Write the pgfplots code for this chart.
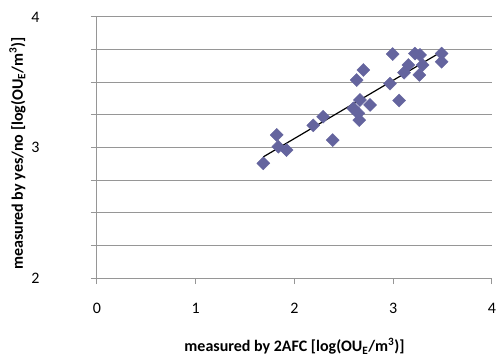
\documentclass[border=0pt]{standalone}
\usepackage{pgfplots}
\pgfplotsset{compat=1.18}
\usepackage{fontspec}
\setmainfont{Carlito}
\definecolor{pts}{RGB}{100,100,158}
\definecolor{gridc}{RGB}{150,150,150}
\begin{document}
\begin{tikzpicture}
\path[use as bounding box] (-97pt,-78pt) rectangle (401pt,278pt);
\begin{axis}[
  at={(0pt,0pt)}, anchor=south west,
  scale only axis, width=395pt, height=261pt,
  xmin=0, xmax=4, ymin=2, ymax=4,
  xtick={0,1,2,3,4}, ytick={2,3,4},
  minor ytick={2.25,2.5,2.75,3.25,3.5,3.75},
  ymajorgrids, yminorgrids,
  major grid style={gridc, line width=1pt},
  minor grid style={gridc, line width=1pt},
  axis line style={gridc, line width=1pt},
  axis x line*=bottom, axis y line*=left,
  x axis line style={-}, y axis line style={-},
  tick style={gridc, line width=1pt},
  tick align=outside,
  major tick length=6pt, minor tick length=6pt,
  /pgf/number format/assume math mode=true,
  tick label style={font=\fontsize{16}{19}\selectfont},
  xticklabel style={yshift=-16pt},
  yticklabel style={xshift=-48pt},
  label style={font=\bfseries\fontsize{16}{19}\selectfont},
  xlabel={measured by 2AFC [log(OU\textsubscript{E}/m\textsuperscript{3})]},
  ylabel={measured by yes/no [log(OU\textsubscript{E}/m\textsuperscript{3})]},
  xlabel style={yshift=-17pt},
  ylabel style={yshift=-1pt, xshift=-6pt},
  clip=false,
]
\addplot[black, line width=1.2pt, no markers] coordinates {(1.684,2.928) (3.49,3.734)};
\addplot[only marks, mark=square*, mark size=4.6pt,
  mark options={rotate=45, fill=pts, draw=pts}] coordinates {
(1.684,2.879) (1.82,3.096) (1.836,3.006) (1.92,2.98) (2.19,3.17)
(2.29,3.236) (2.387,3.057) (2.63,3.517) (2.697,3.594) (2.663,3.364)
(2.596,3.30) (2.646,3.262) (2.656,3.21) (2.765,3.326) (2.967,3.49)
(2.994,3.716) (3.06,3.36) (3.109,3.573) (3.153,3.632) (3.22,3.72)
(3.271,3.709) (3.298,3.632) (3.264,3.556) (3.49,3.72) (3.49,3.657)
};
\end{axis}
\end{tikzpicture}
\end{document}
